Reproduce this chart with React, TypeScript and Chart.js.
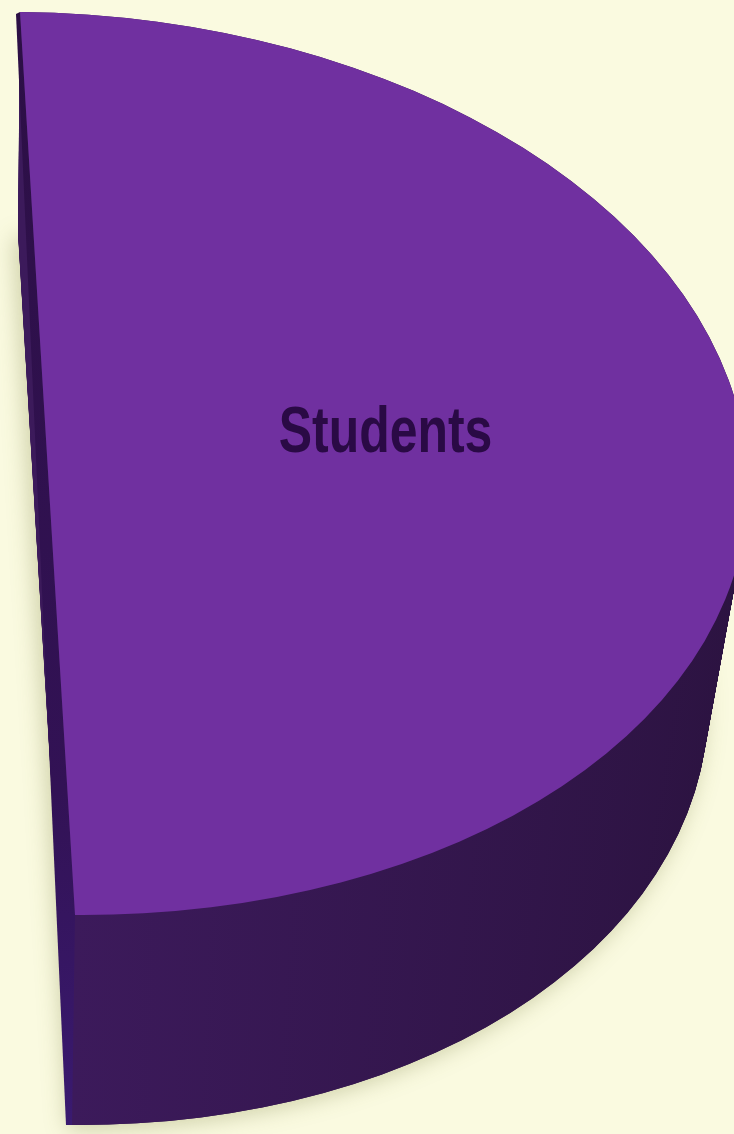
import React, { useEffect, useRef } from "react";
import { Chart, registerables } from "chart.js";

Chart.register(...registerables);

const categories = ["Students", ""];
const values = [50, 50];
const topColors = ["#7030A0", "rgba(0,0,0,0)"];

const W = 734;
const H = 1134;

type Ell = { cx: number; cy: number; ax: number; ay: number; bx: number; by: number };
// projected top face and bottom rim of the 3D pie
const TOP: Ell = { cx: 47.5, cy: 463.5, ax: 700, ay: 5, bx: 27.5, by: 451.5 };
const BOT: Ell = { cx: 45, cy: 679, ax: 663, ay: 5, bx: 27, by: 446 };
const STEPS = 220;

function lerpEll(a: Ell, b: Ell, t: number): Ell {
  return {
    cx: a.cx + (b.cx - a.cx) * t,
    cy: a.cy + (b.cy - a.cy) * t,
    ax: a.ax + (b.ax - a.ax) * t,
    ay: a.ay + (b.ay - a.ay) * t,
    bx: a.bx + (b.bx - a.bx) * t,
    by: a.by + (b.by - a.by) * t,
  };
}

function applyMap(ctx: CanvasRenderingContext2D, el: any, e: Ell) {
  const R = el.outerRadius;
  ctx.translate(e.cx, e.cy);
  ctx.transform(e.ax / R, e.ay / R, e.bx / R, e.by / R, 0, 0);
  ctx.translate(-el.x, -el.y);
}

function mapPt(el: any, e: Ell, px: number, py: number) {
  const R = el.outerRadius;
  const dx = (px - el.x) / R;
  const dy = (py - el.y) / R;
  return [e.cx + dx * e.ax + dy * e.bx, e.cy + dx * e.ay + dy * e.by];
}

function arcPath(ctx: CanvasRenderingContext2D, el: any) {
  ctx.beginPath();
  ctx.moveTo(el.x, el.y);
  ctx.arc(el.x, el.y, el.outerRadius, el.startAngle, el.endAngle);
  ctx.closePath();
}

const pie3d = {
  id: "pie3d",
  beforeDatasetsDraw(chart: any) {
    const ctx: CanvasRenderingContext2D = chart.ctx;
    const meta = chart.getDatasetMeta(0);
    const base = ctx.getTransform();
    meta.data.forEach((el: any, i: number) => {
      if (topColors[i] === "rgba(0,0,0,0)") return;
      // soft shadow under the bottom rim
      ctx.save();
      ctx.shadowColor = "rgba(120,125,60,0.35)";
      ctx.shadowBlur = 22;
      ctx.shadowOffsetX = -4;
      ctx.shadowOffsetY = 4;
      applyMap(ctx, el, BOT);
      ctx.fillStyle = "#2E1444";
      arcPath(ctx, el);
      ctx.fill();
      ctx.restore();
      // side wall
      for (let s = STEPS; s >= 0; s--) {
        const e = lerpEll(TOP, BOT, s / STEPS);
        ctx.save();
        ctx.setTransform(base);
        applyMap(ctx, el, e);
        const g = ctx.createLinearGradient(el.x, 0, el.x + el.outerRadius, 0);
        g.addColorStop(0, "#3C1A5B");
        g.addColorStop(1, "#2C1341");
        ctx.fillStyle = g;
        arcPath(ctx, el);
        ctx.fill();
        ctx.restore();
      }
      // cut face sliver (left edge)
      const tTop = mapPt(el, TOP, el.x + el.outerRadius * Math.cos(el.startAngle), el.y + el.outerRadius * Math.sin(el.startAngle));
      const tBot = mapPt(el, TOP, el.x + el.outerRadius * Math.cos(el.endAngle), el.y + el.outerRadius * Math.sin(el.endAngle));
      const bBot = mapPt(el, BOT, el.x + el.outerRadius * Math.cos(el.endAngle), el.y + el.outerRadius * Math.sin(el.endAngle));
      ctx.save();
      const cg = ctx.createLinearGradient(0, tTop[1], 0, bBot[1]);
      cg.addColorStop(0, "#2C0F45");
      cg.addColorStop(0.7, "#321255");
      cg.addColorStop(1, "#3A1A70");
      ctx.fillStyle = cg;
      ctx.beginPath();
      ctx.moveTo(tTop[0], tTop[1]);
      ctx.lineTo(tBot[0], tBot[1]);
      ctx.lineTo(bBot[0], bBot[1]);
      ctx.lineTo(bBot[0] - 6, bBot[1]);
      ctx.lineTo(tTop[0] - 4, tTop[1] + 2);
      ctx.closePath();
      ctx.fill();
      ctx.restore();
    });
    ctx.save();
    applyMap(ctx, meta.data[0], TOP);
  },
  afterDatasetsDraw(chart: any) {
    const ctx: CanvasRenderingContext2D = chart.ctx;
    ctx.restore();
    const meta = chart.getDatasetMeta(0);
    const el = meta.data[0];
    const mid = (el.startAngle + el.endAngle) / 2;
    const f = 0.483;
    const p = mapPt(el, TOP, el.x + f * el.outerRadius * Math.cos(mid), el.y + f * el.outerRadius * Math.sin(mid));
    ctx.save();
    ctx.translate(p[0], p[1] - 14);
    ctx.scale(0.78, 1);
    ctx.fillStyle = "#2A0A45";
    ctx.font = "bold 64px 'Liberation Sans', Arial, sans-serif";
    ctx.textAlign = "center";
    ctx.textBaseline = "alphabetic";
    ctx.fillText(categories[0], 0, 0);
    ctx.restore();
  },
};

export default function App() {
  const ref = useRef<HTMLCanvasElement | null>(null);
  useEffect(() => {
    if (!ref.current) return;
    const chart = new Chart(ref.current, {
      type: "pie",
      data: {
        labels: categories,
        datasets: [
          {
            data: values,
            backgroundColor: topColors,
            borderWidth: 0,
            clip: false,
          } as any,
        ],
      },
      options: {
        responsive: false,
        animation: false,
        rotation: 0,
        plugins: { legend: { display: false }, tooltip: { enabled: false } },
      },
      plugins: [pie3d],
    });
    return () => chart.destroy();
  }, []);
  return (
    <div style={{ position: "fixed", left: 0, top: 0, width: W, height: H, background: "#FAFAE0" }}>
      <canvas ref={ref} width={W} height={H} style={{ display: "block" }} />
    </div>
  );
}
